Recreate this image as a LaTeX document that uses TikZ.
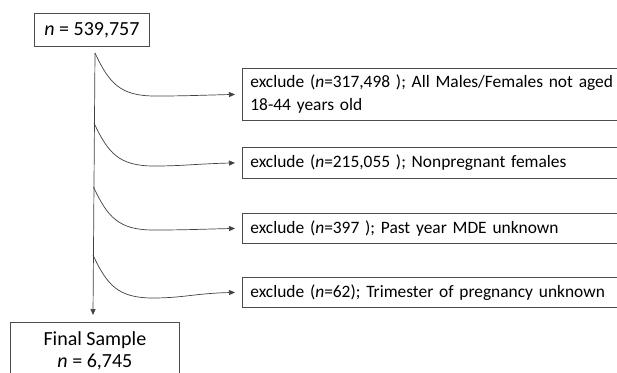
\documentclass[tikz,border=0pt]{standalone}
\usepackage{fontspec}
\setmainfont{Carlito}
\usetikzlibrary{arrows.meta,calc}
\begin{document}
\begin{tikzpicture}[x=1pt,y=-1pt,
  box/.style={draw=black!70,line width=0.8pt,inner sep=0pt},
  exbox/.style={box,minimum height=#1,text width=420pt,align=left,anchor=north west,font=\fontsize{17.4}{23}\selectfont,inner xsep=8pt},
  conn/.style={draw=black!75,line width=0.7pt},
  tip/.style={-{Triangle[length=6pt,width=5pt]}}]
\useasboundingbox (0,0) rectangle (617,372);
\clip (0,0) rectangle (617,372);
\node[box,minimum width=115pt,minimum height=33pt,anchor=north west,font=\fontsize{20}{22}\selectfont] (top) at (34,13) {\textit{n} = 539,757};
\node[exbox=52pt] (e1) at (242,68) {exclude (\textit{n}=317,498 ); All Males/Females not aged\\18-44 years old};
\node[exbox=31pt] (e2) at (242,147) {exclude (\textit{n}=215,055 ); Nonpregnant females};
\node[exbox=30pt] (e3) at (242,213) {exclude (\textit{n}=397 ); Past year MDE unknown};
\node[exbox=30pt] (e4) at (242,277) {exclude (\textit{n}=62); Trimester of pregnancy unknown};
\node[box,minimum width=169pt,minimum height=70pt,anchor=north west,align=center,font=\fontsize{20}{22}\selectfont,text depth=16pt] (fin) at (10,322) {Final Sample\\\textit{n} = 6,745};
\coordinate (v0) at (95,53);
\coordinate (v1) at (93,315);
\coordinate (c1) at (95,53);
\coordinate (c2) at (94,123);
\coordinate (c3) at (93.5,187);
\coordinate (c4) at (93,255);
\draw[conn,tip] (v0) -- (v1);
\foreach \c/\e in {c1/e1,c2/e2,c3/e3,c4/e4}{
  \draw[conn,tip] (\c) .. controls +(14,30) and +(-35,0) .. ($(\c)+(60,43)$) .. controls +(30,0) and +(-40,1) .. ($(\e.west)+(-7,0)$);
}
\end{tikzpicture}
\end{document}
